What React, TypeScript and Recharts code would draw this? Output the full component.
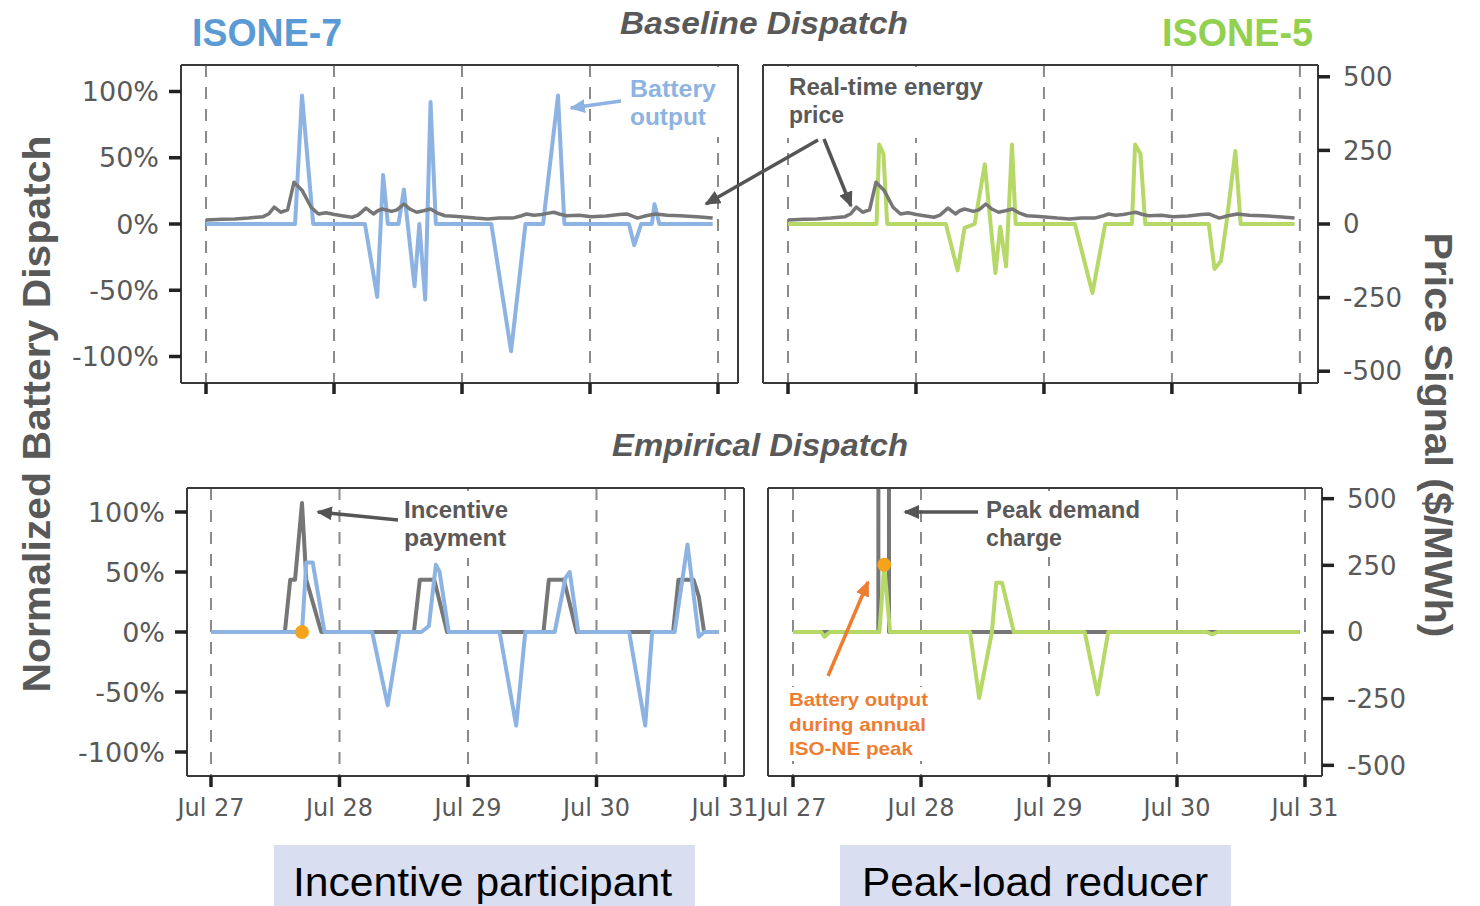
import React from 'react';
import { LineChart, Line, XAxis, YAxis, CartesianGrid, ReferenceDot } from 'recharts';

// ---------- axis ticks ----------
const dayTicks = [0, 24, 48, 72, 96];
const dayLabels = ['Jul 27', 'Jul 28', 'Jul 29', 'Jul 30', 'Jul 31'];
const pctTicks = [-100, -50, 0, 50, 100];
const priceTicks = [-500, -250, 0, 250, 500];

// ---------- Baseline dispatch (hours since Jul 27 00:00) ----------
const baseIsone7Hours = [0, 16.7, 18.0, 20.1, 29.8, 32.1, 33.2, 34.1, 36.1, 37.1, 39.1, 40.0, 41.1, 42.1, 43.1, 53.5, 57.2, 59.9, 63.2, 66.0, 67.2, 79.3, 80.3, 81.6, 83.6, 84.1, 85.0, 95];
const baseIsone7Dispatch = [0, 0, 97, 0, 0, -55, 37, 0, 0, 26, -47, 0, -57, 92, 0, 0, -96, 0, 0, 97, 0, 0, -16, 0, 0, 15, 0, 0];

const baseIsone5Hours = [0, 16.6, 17.1, 17.9, 18.6, 29.6, 31.8, 33.1, 35.0, 36.9, 38.9, 39.8, 40.9, 42.0, 42.7, 53.8, 57.1, 59.5, 64.5, 65.1, 66.1, 67.0, 78.9, 80.0, 81.2, 82.2, 83.9, 84.9, 95];
const baseIsone5Dispatch = [0, 0, 60, 53, 0, 0, -35, -3, 0, 45, -37, -2, -32, 60, 0, 0, -52, 0, 0, 60, 53, 0, 0, -34, -28, 0, 55, 0, 0];

const rtPriceHours = [0, 3, 5.4, 8, 10.7, 11.8, 12.8, 14, 15.3, 16.5, 18.0, 19.7, 21.1, 22.5, 24.1, 25.5, 27.4, 28.5, 30, 31.4, 32.2, 33.1, 34.8, 35.8, 37.1, 38.3, 39.5, 40.8, 42.1, 43.3, 44.8, 46.5, 48.8, 50.5, 52.8, 55, 57.5, 59, 60.1, 61.5, 62.9, 64, 65.2, 66.4, 67.6, 70, 72.2, 75, 77.5, 78.9, 80.9, 82.5, 84.3, 86.5, 89, 92, 95];
const rtPrice = [14, 16, 17, 20, 25, 35, 57, 40, 48, 142, 115, 57, 34, 38, 32, 28, 23, 30, 54, 34, 45, 51, 43, 48, 68, 50, 40, 45, 51, 38, 28, 26, 23, 20, 17, 20, 20, 27, 34, 30, 32, 36, 40, 33, 28, 30, 25, 27, 32, 34, 20, 28, 34, 30, 28, 25, 20];

// ---------- Empirical dispatch ----------
const empIsone7Hours = [0, 17, 17.8, 19.0, 21.2, 30.1, 33, 35.2, 39.3, 40.7, 42, 42.7, 44.4, 53.9, 57, 58.7, 64.2, 66.2, 67, 68.6, 78.1, 81.1, 82.4, 86.6, 89, 91.1, 92.1, 94.8];
const empIsone7Dispatch = [0, 0, 58, 58, 0, 0, -61, 0, 0, 5, 56, 50, 0, 0, -78, 0, 0, 45, 50, 0, 0, -78, 0, 0, 73, -4, 0, 0];

const incentiveHours = [0, 13.8, 14.8, 15.7, 17.0, 17.8, 20.6, 37.9, 39.0, 41.7, 44.1, 62.1, 63.1, 65.9, 68.3, 86.3, 87.3, 90.1, 91.1, 92.1, 94.8];
const incentivePayment = [0, 0, 196, 196, 484, 196, 0, 0, 196, 196, 0, 0, 196, 196, 0, 0, 196, 196, 134, 0, 0];

const empIsone5Hours = [0, 5.3, 5.9, 6.9, 16.2, 17.1, 18.2, 33.2, 34.9, 37.3, 38.1, 39.2, 41.4, 54.7, 57.1, 59.1, 77.6, 78.6, 79.6, 95];
const empIsone5Dispatch = [0, 0, -4, 0, 0, 55, 0, 0, -55, 0, 41, 41, 0, 0, -52, 0, 0, -2, 0, 0];

const peakChargeHours = [0, 16.0, 16.05, 17.95, 18.0, 95];
const peakDemandCharge = [0, 0, 3000, 3000, 0, 0];

// annual ISO-NE peak hour markers
const peakMarkerHours = [17.0, 17.1];
const peakMarkerDispatch = [0, 56];

const zip = (h: number[], v: number[]) => h.map((t, i) => ({ t, v: v[i] }));

const BLUE = '#8db3e2';
const GREEN = '#b5d867';
const GRAY = '#767676';
const ORANGE = '#f5a21c';
const TEXT = '#595959';

type Series = { data: { t: number; v: number }[]; axis: 'pct' | 'price'; color: string; width: number };

function Panel(p: {
  left: number; right: number; top: number; bottom: number;
  xDomain: [number, number];
  leftLabels: boolean; rightLabels: boolean; xLabels: boolean;
  series: Series[]; marker?: { t: number; v: number };
}) {
  const W = 1480, H = 906;
  const lw = p.leftLabels ? 120 : 2;
  const rw = p.rightLabels ? 120 : 2;
  const xh = 50;
  const th = 2;
  const margin = { top: p.top - th, bottom: H - p.bottom - xh, left: p.left - lw, right: W - p.right - rw };
  const axisLine = { stroke: '#3a3a3a', strokeWidth: 2 };
  const tickLine = { stroke: '#222', strokeWidth: 3.5 };
  const tickFont = { fontFamily: 'DejaVu Sans', fill: TEXT };
  return (
    <div style={{ position: 'absolute', left: 0, top: 0 }}>
      <LineChart width={W} height={H} margin={margin}>
        <CartesianGrid xAxisId="x" yAxisId="pct" vertical horizontal={false} stroke="#8a8a8a" strokeWidth={2} strokeDasharray="12 10" />
        <XAxis xAxisId="x" dataKey="t" type="number" domain={p.xDomain} ticks={dayTicks} allowDataOverflow
          height={xh} axisLine={axisLine} tickLine={tickLine} tickSize={11} tickMargin={12}
          tick={{ ...tickFont, fontSize: 24 }}
          tickFormatter={(v: number) => (p.xLabels ? dayLabels[dayTicks.indexOf(v)] : '')} />
        <XAxis xAxisId="top" orientation="top" dataKey="t" type="number" domain={p.xDomain} allowDataOverflow
          height={th} axisLine={axisLine} tick={false} tickLine={false} />
        <YAxis yAxisId="pct" orientation="left" type="number" domain={[-120, 120]} ticks={pctTicks} allowDataOverflow
          width={lw} axisLine={axisLine}
          tick={p.leftLabels ? { ...tickFont, fontSize: 27 } : false} tickLine={p.leftLabels ? tickLine : false}
          tickSize={12} tickMargin={10} tickFormatter={(v: number) => `${v}%`} />
        <YAxis yAxisId="price" orientation="right" type="number" domain={[-540, 540]} ticks={priceTicks} allowDataOverflow
          width={rw} axisLine={axisLine}
          tick={p.rightLabels ? { ...tickFont, fontSize: 26 } : false} tickLine={p.rightLabels ? tickLine : false}
          tickSize={12} tickMargin={13} />
        {p.series.map((s, i) => (
          <Line key={i} xAxisId="x" yAxisId={s.axis} data={s.data} dataKey="v" type="linear" dot={false}
            stroke={s.color} strokeWidth={s.width} isAnimationActive={false} strokeLinejoin="round" />
        ))}
        {p.marker && (
          <ReferenceDot xAxisId="x" yAxisId="pct" x={p.marker.t} y={p.marker.v} r={7} fill={ORANGE} stroke="none" ifOverflow="visible" />
        )}
      </LineChart>
    </div>
  );
}

function Overlay() {
  const bold = { fontFamily: 'Liberation Sans, Arial, sans-serif', fontWeight: 700 } as const;
  return (
    <svg width={1480} height={906} style={{ position: 'absolute', left: 0, top: 0 }}>
      <defs>
        <marker id="ahGray" markerWidth="4.5" markerHeight="4" refX="4" refY="2" orient="auto" markerUnits="strokeWidth">
          <path d="M0,0 L4.5,2 L0,4 z" fill="#555" />
        </marker>
        <marker id="ahBlue" markerWidth="4.5" markerHeight="4" refX="4" refY="2" orient="auto" markerUnits="strokeWidth">
          <path d="M0,0 L4.5,2 L0,4 z" fill={BLUE} />
        </marker>
        <marker id="ahOrange" markerWidth="4.5" markerHeight="4" refX="4" refY="2" orient="auto" markerUnits="strokeWidth">
          <path d="M0,0 L4.5,2 L0,4 z" fill="#ed7d31" />
        </marker>
      </defs>
      {/* titles */}
      <text x={192} y={46} fontSize={38} fill="#5b9bd5" textLength={150} lengthAdjust="spacingAndGlyphs" {...bold}>ISONE-7</text>
      <text x={1162} y={46} fontSize={38} fill="#92d050" textLength={151} lengthAdjust="spacingAndGlyphs" {...bold}>ISONE-5</text>
      <text x={620} y={34} fontSize={32} fill={TEXT} fontStyle="italic" textLength={288} lengthAdjust="spacingAndGlyphs" {...bold}>Baseline Dispatch</text>
      <text x={612} y={456} fontSize={32} fill={TEXT} fontStyle="italic" textLength={296} lengthAdjust="spacingAndGlyphs" {...bold}>Empirical Dispatch</text>
      <text transform="translate(50,414) rotate(-90)" textAnchor="middle" fontSize={38} fill={TEXT} textLength={557} lengthAdjust="spacingAndGlyphs" {...bold}>Normalized Battery Dispatch</text>
      <text transform="translate(1425,435) rotate(90)" textAnchor="middle" fontSize={38} fill={TEXT} textLength={405} lengthAdjust="spacingAndGlyphs" {...bold}>Price Signal ($/MWh)</text>

      {/* annotation text boxes (white fill hides the gridlines behind them) */}
      <rect x={624} y={67} width={100} height={70} fill="#fff" />
      <text x={630} y={97} fontSize={23} fill={BLUE} textLength={86} lengthAdjust="spacingAndGlyphs" {...bold}>Battery</text>
      <text x={630} y={125} fontSize={23} fill={BLUE} textLength={76} lengthAdjust="spacingAndGlyphs" {...bold}>output</text>
      <line x1={621} y1={101} x2={571} y2={108} stroke={BLUE} strokeWidth={3.5} markerEnd="url(#ahBlue)" />

      <rect x={783} y={67} width={208} height={71} fill="#fff" />
      <text x={789} y={95} fontSize={23} fill={TEXT} textLength={194} lengthAdjust="spacingAndGlyphs" {...bold}>Real-time energy</text>
      <text x={789} y={123} fontSize={23} fill={TEXT} {...bold}>price</text>
      <line x1={818} y1={140} x2={706} y2={204} stroke="#555" strokeWidth={3.5} markerEnd="url(#ahGray)" />
      <line x1={824} y1={139} x2={851} y2={206} stroke="#555" strokeWidth={3.5} markerEnd="url(#ahGray)" />

      <rect x={400} y={491} width={114} height={67} fill="#fff" />
      <text x={404} y={518} fontSize={23} fill={TEXT} textLength={104} lengthAdjust="spacingAndGlyphs" {...bold}>Incentive</text>
      <text x={404} y={546} fontSize={23} fill={TEXT} textLength={102} lengthAdjust="spacingAndGlyphs" {...bold}>payment</text>
      <line x1={398} y1={520} x2={318} y2={512} stroke="#555" strokeWidth={3.5} markerEnd="url(#ahGray)" />

      <rect x={981} y={491} width={164} height={66} fill="#fff" />
      <text x={986} y={518} fontSize={23} fill={TEXT} textLength={154} lengthAdjust="spacingAndGlyphs" {...bold}>Peak demand</text>
      <text x={986} y={546} fontSize={23} fill={TEXT} textLength={76} lengthAdjust="spacingAndGlyphs" {...bold}>charge</text>
      <line x1={978} y1={512} x2={905} y2={512} stroke="#555" strokeWidth={3.5} markerEnd="url(#ahGray)" />

      <rect x={785} y={687} width={146} height={74} fill="#fff" />
      <text x={789} y={706} fontSize={19} fill="#ed7d31" textLength={139} lengthAdjust="spacingAndGlyphs" {...bold}>Battery output</text>
      <text x={789} y={731} fontSize={19} fill="#ed7d31" textLength={137} lengthAdjust="spacingAndGlyphs" {...bold}>during annual</text>
      <text x={789} y={755} fontSize={19} fill="#ed7d31" textLength={124} lengthAdjust="spacingAndGlyphs" {...bold}>ISO-NE peak</text>
      <line x1={828} y1={676} x2={868} y2={582} stroke="#ed7d31" strokeWidth={3.5} markerEnd="url(#ahOrange)" />

      {/* bottom category boxes */}
      <rect x={274} y={845} width={421} height={61} fill="#d9dff1" />
      <text x={293} y={896} fontSize={40} fill="#000" fontFamily="Liberation Sans, Arial, sans-serif" textLength={379} lengthAdjust="spacingAndGlyphs">Incentive participant</text>
      <rect x={840} y={845} width={391} height={61} fill="#d9dff1" />
      <text x={862} y={896} fontSize={40} fill="#000" fontFamily="Liberation Sans, Arial, sans-serif" textLength={346} lengthAdjust="spacingAndGlyphs">Peak-load reducer</text>
    </svg>
  );
}

export default function App() {
  const priceTop = zip(rtPriceHours, rtPrice);
  return (
    <div style={{ position: 'absolute', left: 0, top: 0, width: 1480, height: 906, background: '#fff', overflow: 'hidden' }}>
      <Panel left={181} right={738} top={65} bottom={383} xDomain={[-4.69, 99.75]} leftLabels rightLabels={false} xLabels={false}
        series={[
          { data: zip(baseIsone7Hours, baseIsone7Dispatch), axis: 'pct', color: BLUE, width: 4 },
          { data: priceTop, axis: 'price', color: GRAY, width: 3.5 },
        ]} />
      <Panel left={763} right={1318} top={65} bottom={383} xDomain={[-4.69, 99.4]} leftLabels={false} rightLabels xLabels={false}
        series={[
          { data: zip(baseIsone5Hours, baseIsone5Dispatch), axis: 'pct', color: GREEN, width: 4 },
          { data: priceTop, axis: 'price', color: GRAY, width: 3.5 },
        ]} />
      <Panel left={187} right={744} top={488} bottom={776} xDomain={[-4.48, 99.55]} leftLabels rightLabels={false} xLabels
        series={[
          { data: zip(incentiveHours, incentivePayment), axis: 'price', color: GRAY, width: 4 },
          { data: zip(empIsone7Hours, empIsone7Dispatch), axis: 'pct', color: BLUE, width: 4 },
        ]}
        marker={{ t: peakMarkerHours[0], v: peakMarkerDispatch[0] }} />
      <Panel left={768} right={1322} top={488} bottom={776} xDomain={[-4.69, 99.19]} leftLabels={false} rightLabels xLabels
        series={[
          { data: zip(peakChargeHours, peakDemandCharge), axis: 'price', color: GRAY, width: 4 },
          { data: zip(empIsone5Hours, empIsone5Dispatch), axis: 'pct', color: GREEN, width: 4 },
        ]}
        marker={{ t: peakMarkerHours[1], v: peakMarkerDispatch[1] }} />
      <Overlay />
    </div>
  );
}
